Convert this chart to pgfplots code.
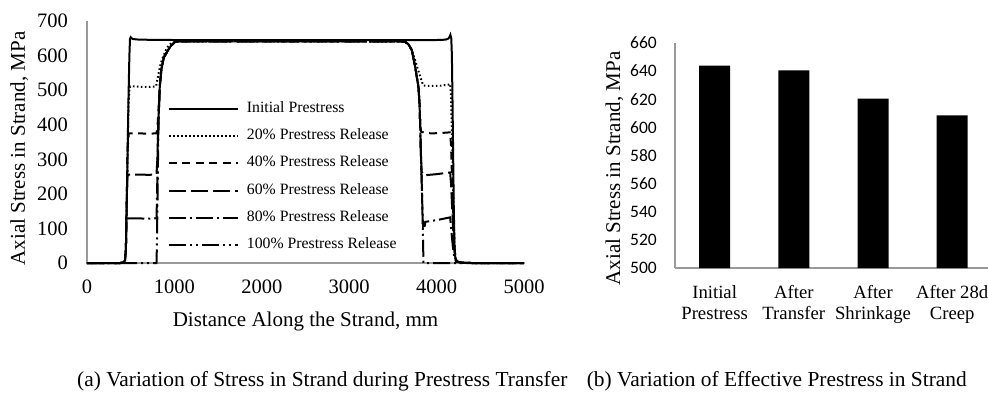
\documentclass[border=0pt]{standalone}
\usepackage{fontspec}
\setmainfont{Liberation Serif}
\newfontfamily\carlito{Carlito}
\usepackage{pgfplots}
\pgfplotsset{compat=1.18}

\pgfplotsset{
  common/.style={
    scale only axis,
    axis x line*=bottom, axis y line*=left,
    axis line style={draw=black!40, line width=1.3pt},
    major tick length=0pt,
    /pgf/number format/assume math mode=true,
    /pgf/number format/1000 sep={},
  },
  lw/.style={line width=2pt, draw=black},
}

\begin{document}
\begin{tikzpicture}[x=1pt,y=1pt]
\useasboundingbox (0,0) rectangle (988,392);

\begin{axis}[common,
  at={(87pt,129pt)}, anchor=south west, width=437pt, height=242pt,
  xmin=0, xmax=5000, ymin=0, ymax=700,
  xtick={0,1000,...,5000}, ytick={0,100,...,700},
  clip=false,
  ticklabel style={font=\fontsize{20.5}{24}\selectfont, inner sep=0pt},
  yticklabel style={anchor=east, xshift=-19pt},
  xticklabel style={anchor=north, yshift=-17pt},
  xlabel={Distance Along the Strand, mm},
  ylabel={Axial Stress in Strand, MPa},
  label style={font=\fontsize{21}{25}\selectfont, inner sep=0pt},
  xlabel style={at={(rel axis cs:0.5,0)}, anchor=base, yshift=-63.7pt},
  ylabel style={at={(rel axis cs:-0.1419,0.4731)}, anchor=base},
  legend style={draw=none, fill=none, inner sep=0pt, at={(axis cs:924,468)}, anchor=north west,
    font=\fontsize{15.75}{18}\selectfont, row sep=12.2pt, column sep=8pt,
    cells={anchor=west}, nodes={inner sep=0pt, text height=11pt, text depth=4pt}},
  legend image code/.code={\draw[#1] (0pt,0pt) -- (69pt,0pt);},
]
% Initial prestress
\addplot[lw, solid] coordinates {(0,0)(380,0)(420,2)(435,8)(445,40)(455,180)(465,330)(475,480)(485,600)(492,648)(500,653)(520,648)(600,646)(1000,645)(2000,645)(3000,645)(4000,645)(4100,646)(4135,649)(4150,655)(4158,660)(4168,650)(4175,600)(4183,450)(4190,300)(4197,150)(4205,50)(4215,12)(4235,4)(4280,1)(4400,0)(5000,0)};
\addlegendentry{Initial Prestress}
% 20%
\addplot[lw, dash pattern=on 1.6pt off 2.4pt] coordinates {(0,0)(380,0)(420,2)(435,8)(445,40)(455,180)(465,330)(475,460)(485,505)(495,511)(600,510)(700,509)(790,511)(805,530)(820,550)(835,568)(860,590)(885,605)(905,617)(930,628)(966,636)(1000,639)(1050,641)(2000,641)(3000,641)(3600,640)(3650,637)(3690,628)(3720,612)(3750,590)(3780,565)(3813,539)(3835,522)(3851,513)(3950,512)(4050,513)(4140,516)(4155,518)(4165,480)(4175,380)(4185,260)(4195,140)(4205,50)(4215,12)(4235,4)(4280,1)(4400,0)(5000,0)};
\addlegendentry{20\% Prestress Release}
% 40%
\addplot[lw, dash pattern=on 8pt off 5.5pt] coordinates {(0,0)(380,0)(420,2)(435,8)(445,40)(455,180)(465,330)(478,375)(600,375)(700,374)(795,375)(808,400)(817,440)(826,480)(833,512)(852,562)(880,595)(928,616)(960,628)(1005,639)(1050,641)(2000,641)(3000,641)(3600,641)(3640,640)(3680,632)(3716,616)(3754,568)(3792,510)(3805,460)(3812,400)(3822,380)(3870,376)(3950,375)(4050,376)(4155,378)(4165,340)(4175,260)(4185,180)(4195,100)(4205,40)(4215,12)(4235,4)(4280,1)(4400,0)(5000,0)};
\addlegendentry{40\% Prestress Release}
% 60%
\addplot[lw, dash pattern=on 17pt off 5pt] coordinates {(0,0)(380,0)(420,2)(435,8)(445,40)(455,180)(462,250)(475,256)(600,256)(700,255)(795,256)(805,300)(815,400)(825,460)(833,512)(852,562)(880,595)(928,616)(960,628)(1005,639)(1050,641)(2000,641)(3000,641)(3600,641)(3640,640)(3680,632)(3716,616)(3754,568)(3792,510)(3805,460)(3812,400)(3820,320)(3828,265)(3850,254)(3870,254)(4000,257)(4155,262)(4165,230)(4180,150)(4195,70)(4210,20)(4230,5)(4280,1)(4400,0)(5000,0)};
\addlegendentry{60\% Prestress Release}
% 80%
\addplot[lw, dash pattern=on 17pt off 4pt on 2pt off 4pt] coordinates {(0,0)(380,0)(420,2)(435,8)(445,40)(452,125)(470,129)(600,129)(700,128)(795,129)(802,200)(808,300)(815,400)(825,460)(833,512)(852,562)(880,595)(928,616)(960,628)(1005,639)(1050,641)(2000,641)(3000,641)(3600,641)(3640,640)(3680,632)(3716,616)(3754,568)(3792,510)(3805,460)(3812,400)(3820,320)(3830,230)(3838,150)(3845,105)(3866,108)(3870,119)(4000,124)(4155,132)(4170,90)(4185,50)(4200,20)(4220,5)(4280,1)(4400,0)(5000,0)};
\addlegendentry{80\% Prestress Release}
% 100%
\addplot[lw, dash pattern=on 17pt off 4pt on 2pt off 4pt on 2pt off 4pt] coordinates {(0,0)(795,0)(800,50)(805,150)(810,250)(815,350)(822,430)(833,512)(852,562)(880,595)(928,616)(960,628)(1005,639)(1050,641)(2000,641)(3000,641)(3600,641)(3640,640)(3680,632)(3716,616)(3754,568)(3792,510)(3805,460)(3812,400)(3820,320)(3830,230)(3838,150)(3845,60)(3850,0)(5000,0)};
\addlegendentry{100\% Prestress Release}
\end{axis}

\begin{axis}[common,
  at={(675pt,124pt)}, anchor=south west, width=313pt, height=225pt,
  xmin=-0.5, xmax=3.452, ymin=500, ymax=660,
  ybar, bar width=31pt,
  xtick={0,1,2,3},
  xticklabels={{Initial\\Prestress},{After\\Transfer},{After\\Shrinkage},{After 28d\\Creep}},
  ytick={500,520,...,660},
  yticklabel style={font=\carlito\fontsize{17.5}{20}\selectfont, inner sep=0pt, anchor=east, xshift=-18pt},
  xticklabel style={font=\fontsize{18.7}{21.5}\selectfont, align=center, inner sep=0pt, anchor=north, yshift=-17pt},
  ylabel={Axial Stress in Strand, MPa},
  ylabel style={font=\fontsize{21}{25}\selectfont, inner sep=0pt, at={(rel axis cs:-0.1757,0.4422)}, anchor=base},
]
\addplot[fill=black, draw=none] coordinates {(0,644)(1,640.5)(2,620.5)(3,608.5)};
\end{axis}

\node[anchor=base west, font=\fontsize{21.4}{25}\selectfont, inner sep=0pt] at (77,5.5) {(a) Variation of Stress in Strand during Prestress Transfer};
\node[anchor=base east, font=\fontsize{21.4}{25}\selectfont, inner sep=0pt] at (967,5.5) {(b) Variation of Effective Prestress in Strand};
\end{tikzpicture}
\end{document}
